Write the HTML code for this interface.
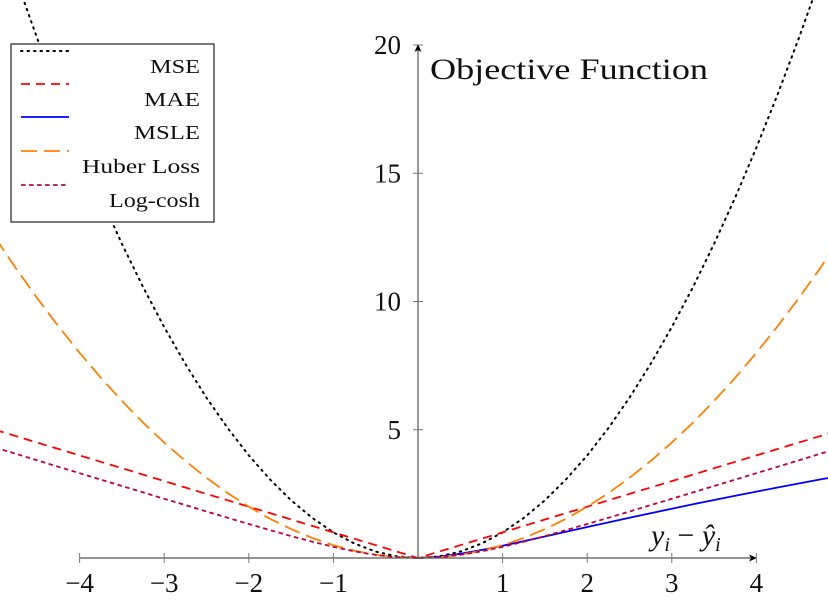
<!DOCTYPE html>
<html><head><meta charset="utf-8"><style>
body{margin:0;background:#fff}
svg{display:block;font-family:"Liberation Serif","DejaVu Serif",serif}
</style></head><body>
<svg id="chart" width="828" height="611" viewBox="0 0 828 611" xmlns="http://www.w3.org/2000/svg">
<g id="series"></g>
<g id="axes"></g>
<g id="legend"></g>
</svg>
<script>
const xs = [-5,-4.75,-4.5,-4.25,-4,-3.75,-3.5,-3.25,-3,-2.75,-2.5,-2.25,-2,-1.75,-1.5,-1.25,-1,-0.75,-0.5,-0.25,0,0.25,0.5,0.75,1,1.25,1.5,1.75,2,2.25,2.5,2.75,3,3.25,3.5,3.75,4,4.25,4.5,4.75,5];
const mseVals = [25,22.5625,20.25,18.0625,16,14.0625,12.25,10.5625,9,7.5625,6.25,5.0625,4,3.0625,2.25,1.5625,1,0.5625,0.25,0.0625,0,0.0625,0.25,0.5625,1,1.5625,2.25,3.0625,4,5.0625,6.25,7.5625,9,10.5625,12.25,14.0625,16,18.0625,20.25,22.5625,25];
const maeVals = [5,4.75,4.5,4.25,4,3.75,3.5,3.25,3,2.75,2.5,2.25,2,1.75,1.5,1.25,1,0.75,0.5,0.25,0,0.25,0.5,0.75,1,1.25,1.5,1.75,2,2.25,2.5,2.75,3,3.25,3.5,3.75,4,4.25,4.5,4.75,5];
const huberVals = [12.5,11.28,10.125,9.03,8,7.03,6.125,5.28,4.5,3.78,3.125,2.53,2,1.53,1.125,0.78,0.5,0.28,0.125,0.031,0,0.031,0.125,0.28,0.5,0.78,1.125,1.53,2,2.53,3.125,3.78,4.5,5.28,6.125,7.03,8,9.03,10.125,11.28,12.5];
const logcoshVals = [4.307,4.057,3.807,3.557,3.307,3.058,2.808,2.558,2.309,2.061,1.814,1.568,1.325,1.087,0.855,0.636,0.434,0.258,0.120,0.031,0,0.031,0.120,0.258,0.434,0.636,0.855,1.087,1.325,1.568,1.814,2.061,2.309,2.558,2.808,3.058,3.307,3.557,3.807,4.057,4.307];
const msleXs = [0,0.25,0.5,0.75,1,1.25,1.5,1.75,2,2.25,2.5,2.75,3,3.25,3.5,3.75,4,4.25,4.5,4.75,5];
const msleVals = [0,0.0498,0.1644,0.3132,0.4805,0.6576,0.8396,1.0233,1.2069,1.3893,1.5694,1.7471,1.9218,2.0935,2.2623,2.4277,2.5903,2.7496,2.906,3.0597,3.2104];
const xTicks = [-4,-3,-2,-1,1,2,3,4];
const xTickLabels = ["\u22124","\u22123","\u22122","\u22121","1","2","3","4"];
const yTicks = [5,10,15,20];
const yTickLabels = ["5","10","15","20"];

const NS="http://www.w3.org/2000/svg";
const X0=418, XU=84.6, Y0=558, YU=25.65;
const sx=v=>X0+v*XU, sy=v=>Y0-v*YU;
function mk(tag,attrs,parent){const e=document.createElementNS(NS,tag);for(const k in attrs)e.setAttribute(k,attrs[k]);parent.appendChild(e);return e;}
const S=document.getElementById('series'),A=document.getElementById('axes'),L=document.getElementById('legend');

const seriesDefs=[
 {name:'mse',label:'MSE',x:xs,y:mseVals,color:'#000',dash:'1.5 5',cap:'round',w:2,tl:50},
 {name:'mae',label:'MAE',x:xs,y:maeVals,color:'#ff0000',dash:'9 6',cap:'butt',w:1.8,tl:56},
 {name:'msle',label:'MSLE',x:msleXs,y:msleVals,color:'#0000ff',dash:'none',cap:'butt',w:1.8,tl:66},
 {name:'huber',label:'Huber Loss',x:xs,y:huberVals,color:'#ff8000',dash:'16 7',cap:'butt',w:1.8,tl:118},
 {name:'logcosh',label:'Log-cosh',x:xs,y:logcoshVals,color:'#c0003f',dash:'4.5 3.5',cap:'butt',w:1.8,tl:91}
];
seriesDefs.forEach(d=>{
 const pts=d.x.map((v,i)=>sx(v).toFixed(1)+','+sy(d.y[i]).toFixed(1)).join(' ');
 const p=mk('polyline',{points:pts,fill:'none',stroke:d.color,'stroke-width':d.w,'stroke-dasharray':d.dash,'stroke-linecap':d.cap},S);
 
 
});

let ax=mk('line',{x1:80,y1:Y0,x2:754,y2:Y0,stroke:'#555','stroke-width':1.2},A);

let ar=mk('path',{d:'M757,558 L749,554.5 L751,558 L749,561.5 Z',fill:'#000'},A);

let ay=mk('line',{x1:X0,y1:Y0,x2:X0,y2:48,stroke:'#555','stroke-width':1.2},A);

let ar2=mk('path',{d:'M418,44 L414.5,52 L418,50 L421.5,52 Z',fill:'#000'},A);

xTicks.forEach((t,i)=>{
 const l=mk('line',{x1:sx(t),y1:Y0-5,x2:sx(t),y2:Y0+5,stroke:'#777','stroke-width':1},A);
 
 const tx=mk('text',{x:sx(t),y:592,'font-size':27,'text-anchor':'middle',fill:'#111'},A);
 tx.textContent=xTickLabels[i];
 
});
yTicks.forEach((t,i)=>{
 const l=mk('line',{x1:X0-5,y1:sy(t),x2:X0+5,y2:sy(t),stroke:'#777','stroke-width':1},A);
 
 const tx=mk('text',{x:401,y:sy(t)+9,'font-size':27,'text-anchor':'end',fill:'#111'},A);
 tx.textContent=yTickLabels[i];
 
});
let yt=mk('text',{x:430,y:79,'font-size':30,fill:'#111',textLength:278,lengthAdjust:'spacingAndGlyphs'},A);
yt.textContent='Objective Function';

let xt=mk('text',{x:651,y:545,'font-size':30,'font-style':'italic',fill:'#111'},A);
xt.innerHTML='y<tspan font-size="20" dy="6">i</tspan><tspan dy="-6" font-style="normal"> \u2212 </tspan>\u0177<tspan font-size="20" dy="6">i</tspan>';


let box=mk('rect',{x:11,y:44,width:203,height:178,fill:'#fff',stroke:'#333','stroke-width':1.3},L);

const lineYs=[51,84,117,151,185];
seriesDefs.forEach((d,i)=>{
 const g=mk('g',{},L);
 
 
 mk('line',{x1:21,y1:lineYs[i],x2:69,y2:lineYs[i],stroke:d.color,'stroke-width':d.w,'stroke-dasharray':d.dash,'stroke-linecap':d.cap},g);
 const t=mk('text',{x:200-d.tl,y:lineYs[i]+22,'font-size':20,fill:'#111',textLength:d.tl,lengthAdjust:'spacingAndGlyphs'},g);
 t.textContent=d.label;
});
</script>
</body></html>
